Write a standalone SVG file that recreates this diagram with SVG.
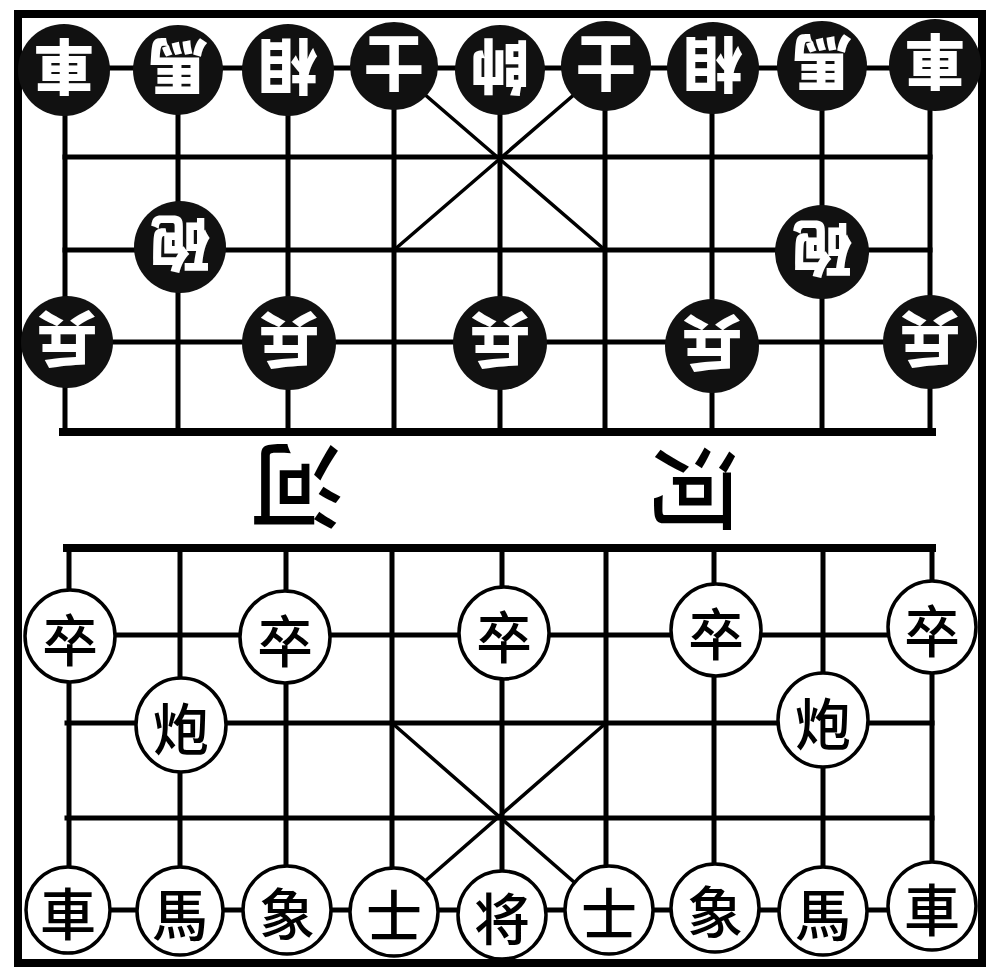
<svg xmlns="http://www.w3.org/2000/svg" width="1000" height="978" viewBox="0 0 1000 978">
<style>
.g{stroke:#000;stroke-width:5;fill:none;stroke-linecap:square}
.t{stroke:#000;stroke-width:8;fill:none;stroke-linecap:square}
.d{stroke:#000;stroke-width:3.5;fill:none}
.b circle{fill:#111}
.b text{fill:#fff;font-family:"Noto Sans CJK TC","Noto Sans CJK SC",sans-serif;font-weight:900;font-size:60px;text-anchor:middle;dominant-baseline:central}
.w ellipse{fill:#fff;stroke:#000;stroke-width:3.5}
.w text{fill:#000;font-family:"Noto Sans CJK TC","Noto Sans CJK SC",sans-serif;font-weight:500;font-size:56px;text-anchor:middle;dominant-baseline:central}
.r{fill:#000;font-family:"Noto Sans CJK TC","Noto Sans CJK SC",sans-serif;font-weight:500;text-anchor:middle;dominant-baseline:central}
</style>
<rect width="1000" height="978" fill="#fff"/>
<g id="connectors">
<rect x="18" y="14" width="964" height="949" class="t"/>
<path class="g" d="M65 68H930M65 157H930M65 250H930M65 342H930"/>
<path class="t" d="M63 432H932"/>
<path class="g" d="M65 110V432M178 68V432M288 68V432M394 68V432M500 68V432M605 68V432M712 68V432M822 68V432M930 110V432"/>
<path class="d" d="M394 68L605 250M605 68L394 250"/>
<path class="t" d="M67 548H932"/>
<path class="g" d="M67 635H932M67 723H932M67 818H932M67 910H932"/>
<path class="g" d="M69 548V870M180 548V910M286 548V910M392 548V910M502 548V910M606 548V910M714 548V910M823 548V910M932 548V870"/>
<path class="d" d="M392 723L606 910M606 723L392 910"/>
</g>
<g id="river">
<text class="r" font-size="92" transform="rotate(180 297 492)" x="297" y="492">河</text>
<text class="r" font-size="88" transform="rotate(90 700 489)" x="700" y="489">河</text>
</g>
<g class="b">
<g id="b-che1"><circle cx="64" cy="70" r="46"/><text transform="rotate(180 64 70)" x="64" y="70">車</text></g>
<g id="b-ma1"><circle cx="178" cy="70" r="45"/><text transform="rotate(180 178 70)" x="178" y="70">馬</text></g>
<g id="b-xiang1"><circle cx="288" cy="70" r="46"/><text transform="rotate(180 288 70)" x="288" y="70">相</text></g>
<g id="b-shi1"><circle cx="394" cy="66" r="44"/><text transform="rotate(180 394 66)" x="394" y="66">士</text></g>
<g id="b-shuai"><circle cx="500" cy="70" r="45"/><text transform="rotate(180 500 70)" x="500" y="70">帥</text></g>
<g id="b-shi2"><circle cx="606" cy="66" r="45"/><text transform="rotate(180 606 66)" x="606" y="66">士</text></g>
<g id="b-xiang2"><circle cx="713" cy="68" r="46"/><text transform="rotate(180 713 68)" x="713" y="68">相</text></g>
<g id="b-ma2"><circle cx="822" cy="66" r="45"/><text transform="rotate(180 822 66)" x="822" y="66">馬</text></g>
<g id="b-che2"><circle cx="935" cy="65" r="46"/><text transform="rotate(180 935 65)" x="935" y="65">車</text></g>
<g id="b-pao1"><circle cx="180" cy="247" r="46"/><text transform="rotate(180 180 247)" x="180" y="247">砲</text></g>
<g id="b-pao2"><circle cx="822" cy="252" r="47"/><text transform="rotate(180 822 252)" x="822" y="252">砲</text></g>
<g id="b-bing1"><circle cx="67" cy="342" r="46"/><text transform="rotate(180 67 342)" x="67" y="342">兵</text></g>
<g id="b-bing2"><circle cx="289" cy="343" r="47"/><text transform="rotate(180 289 343)" x="289" y="343">兵</text></g>
<g id="b-bing3"><circle cx="500" cy="343" r="47"/><text transform="rotate(180 500 343)" x="500" y="343">兵</text></g>
<g id="b-bing4"><circle cx="712" cy="346" r="47"/><text transform="rotate(180 712 346)" x="712" y="346">兵</text></g>
<g id="b-bing5"><circle cx="930" cy="342" r="47"/><text transform="rotate(180 930 342)" x="930" y="342">兵</text></g>
</g>
<g class="w">
<g id="w-zu1"><ellipse cx="70" cy="636" rx="45" ry="46"/><text x="70" y="636">卒</text></g>
<g id="w-zu2"><ellipse cx="285" cy="637" rx="45" ry="46"/><text x="285" y="637">卒</text></g>
<g id="w-zu3"><ellipse cx="504" cy="633" rx="45" ry="46"/><text x="504" y="633">卒</text></g>
<g id="w-zu4"><ellipse cx="716" cy="630" rx="45" ry="46"/><text x="716" y="630">卒</text></g>
<g id="w-zu5"><ellipse cx="932" cy="627" rx="44" ry="46"/><text x="932" y="627">卒</text></g>
<g id="w-pao1"><ellipse cx="181" cy="725" rx="45" ry="47"/><text x="181" y="725">炮</text></g>
<g id="w-pao2"><ellipse cx="823" cy="720" rx="45" ry="47"/><text x="823" y="720">炮</text></g>
<g id="w-che1"><ellipse cx="68" cy="910" rx="42" ry="43"/><text x="68" y="910">車</text></g>
<g id="w-ma1"><ellipse cx="180" cy="911" rx="43" ry="44"/><text x="180" y="911">馬</text></g>
<g id="w-xiang1"><ellipse cx="287" cy="910" rx="44" ry="44"/><text x="287" y="910">象</text></g>
<g id="w-shi1"><ellipse cx="394" cy="912" rx="44" ry="44"/><text x="394" y="912">士</text></g>
<g id="w-jiang"><ellipse cx="502" cy="915" rx="44" ry="44"/><text x="502" y="915">将</text></g>
<g id="w-shi2"><ellipse cx="609" cy="910" rx="44" ry="44"/><text x="609" y="910">士</text></g>
<g id="w-xiang2"><ellipse cx="715" cy="908" rx="44" ry="44"/><text x="715" y="908">象</text></g>
<g id="w-ma2"><ellipse cx="823" cy="911" rx="44" ry="44"/><text x="823" y="911">馬</text></g>
<g id="w-che2"><ellipse cx="932" cy="906" rx="44" ry="44"/><text x="932" y="906">車</text></g>
</g>
</svg>
